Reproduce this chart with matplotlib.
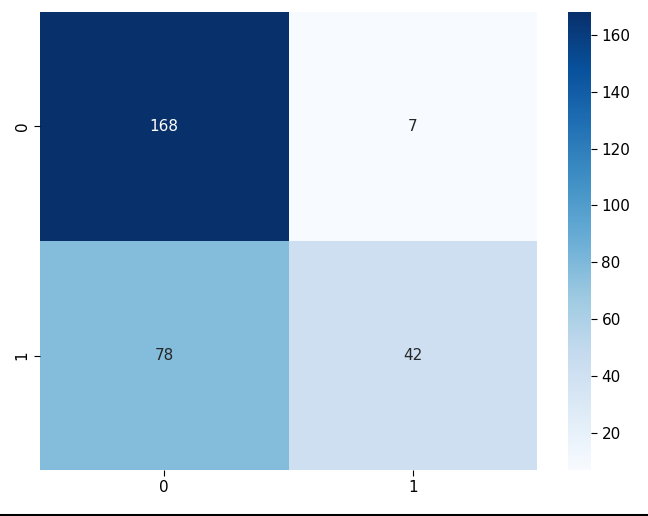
import matplotlib
matplotlib.use("Agg")
import matplotlib.pyplot as plt
import seaborn as sns
import numpy as np
from matplotlib.lines import Line2D

row_labels = ["0", "1"]
col_labels = ["0", "1"]
counts = [[168, 7], [78, 42]]

plt.rcParams["font.size"] = 11
plt.rcParams["xtick.major.size"] = 4
plt.rcParams["ytick.major.size"] = 4

fig = plt.figure(figsize=(6.48, 5.16), dpi=100)
W, H = 648, 516
ax = fig.add_axes([40 / W, (H - 470) / H, 497 / W, 458 / H])
cax = fig.add_axes([568 / W, (H - 470) / H, 23 / W, 458 / H])
sns.heatmap(np.array(counts), annot=True, fmt="d", cmap="Blues", ax=ax, cbar_ax=cax,
            xticklabels=col_labels, yticklabels=row_labels, annot_kws={"size": 11})
ax.tick_params(labelsize=11)
cax.tick_params(labelsize=11)
fig.add_artist(Line2D([0, 1], [1.5 / H, 1.5 / H], color="black", linewidth=2.2,
                      transform=fig.transFigure))
fig.savefig("out.png", dpi=100)
